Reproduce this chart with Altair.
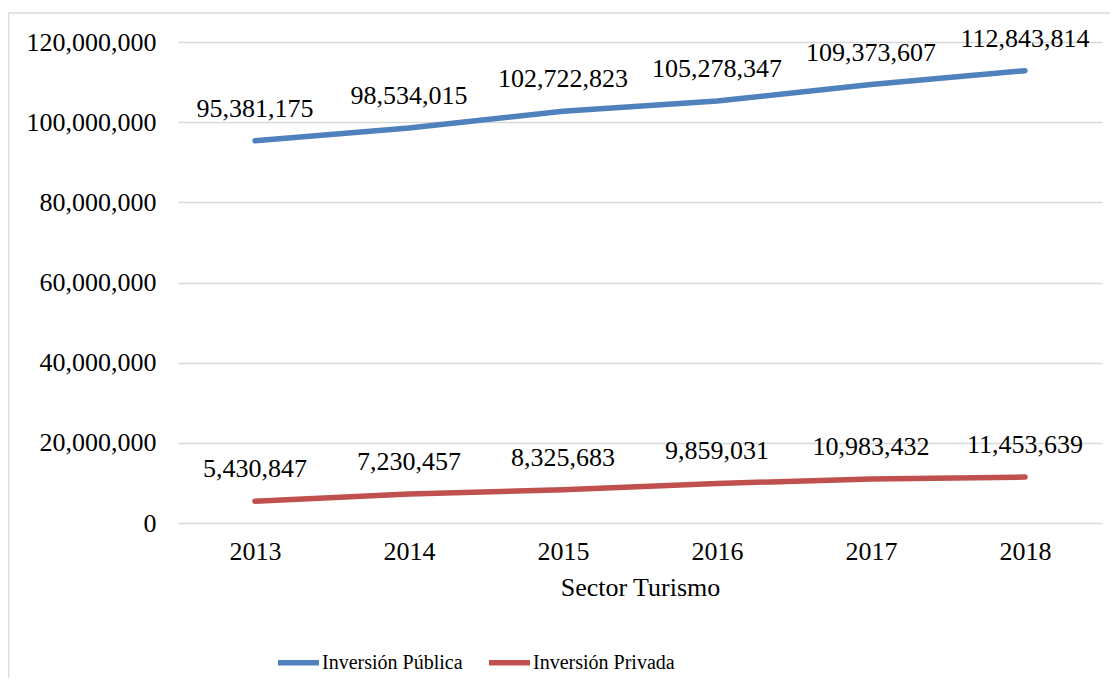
import altair as alt
import pandas as pd

years = ["2013", "2014", "2015", "2016", "2017", "2018"]
publica = [95381175, 98534015, 102722823, 105278347, 109373607, 112843814]
privada = [5430847, 7230457, 8325683, 9859031, 10983432, 11453639]
series_names = ["Inversión Pública", "Inversión Privada"]
series_colors = ["#4f81bd", "#c0504d"]
y_ticks = [0, 20000000, 40000000, 60000000, 80000000, 100000000, 120000000]

rows = []
for name, vals in zip(series_names, [publica, privada]):
    for yr, v in zip(years, vals):
        rows.append({"Año": yr, "Valor": v, "Serie": name})
df = pd.DataFrame(rows)

FONT = "Liberation Serif"
FS = 26

x_enc = alt.X("Año:O", scale=alt.Scale(type="point", padding=0.5),
              axis=alt.Axis(title="Sector Turismo", labelAngle=0, domain=False, ticks=False,
                            labelPadding=15, titlePadding=10, labelFont=FONT, labelFontSize=FS,
                            titleFont=FONT, titleFontSize=FS, titleFontWeight="normal",
                            labelColor="#000000", titleColor="#000000"))
y_enc = alt.Y("Valor:Q", scale=alt.Scale(domain=[0, 120000000], nice=False),
              axis=alt.Axis(title=None, values=y_ticks, format=",.0f", domain=False, ticks=False,
                            labelPadding=22, labelFont=FONT, labelFontSize=FS, labelColor="#000000",
                            gridColor="#d9d9d9", gridWidth=1.5))

one = pd.DataFrame({"a": [0]})
left_edge = alt.Chart(one).mark_rule(stroke="#d9d9d9", strokeWidth=1.5).encode(
    x=alt.value(-169.5), y=alt.value(-29), y2=alt.value(720))
top_edge = alt.Chart(one).mark_rule(stroke="#d9d9d9", strokeWidth=1.5).encode(
    x=alt.value(-169.5), x2=alt.value(980), y=alt.value(-29))

lines = alt.Chart(df).mark_line(strokeWidth=5.5, strokeCap="round").encode(
    x=x_enc,
    y=y_enc,
    color=alt.Color("Serie:N",
                    scale=alt.Scale(domain=series_names, range=series_colors),
                    sort=series_names,
                    legend=alt.Legend(title=None, orient="none", direction="horizontal",
                                      legendX=97, legendY=597, padding=0, symbolType="stroke",
                                      symbolSize=1681, symbolStrokeWidth=5.5,
                                      labelFont=FONT, labelFontSize=20, labelColor="#000000",
                                      labelOffset=0, columnPadding=15, labelLimit=400)),
)

labels = alt.Chart(df).mark_text(font=FONT, fontSize=FS, color="#000000",
                                  baseline="alphabetic", dy=-24).encode(
    x=x_enc,
    y=y_enc,
    detail="Serie:N",
    text=alt.Text("Valor:Q", format=","),
)

chart = alt.layer(left_edge, top_edge, lines, labels).properties(
    width=924, height=481,
    autosize=alt.AutoSizeParams(type="none"),
    padding={"left": 170, "top": 34, "right": 8, "bottom": 155},
    background="white",
).configure_view(stroke=None)

chart.save("out.html", embed_options={"renderer": "svg", "actions": False})
